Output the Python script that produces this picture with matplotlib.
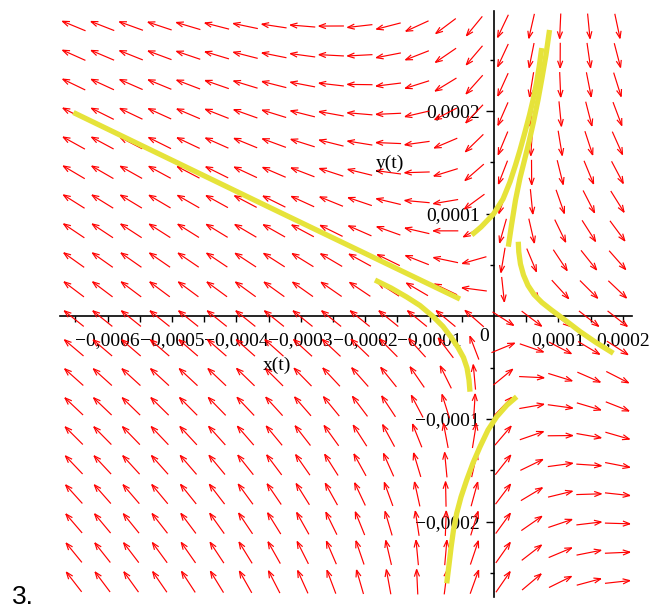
import numpy as np
import matplotlib
matplotlib.use("Agg")
import matplotlib.pyplot as plt
from matplotlib.collections import LineCollection

# ---- linear system  x' = a*x + b*y ,  y' = c*x + d*y ----
coef_a, coef_b = 1.0, -0.41
coef_c, coef_d = -0.50, -0.45

# plotting window and direction-field grid
x_range = (-0.00067438, 0.00021382)
y_range = (-0.00027293, 0.00029689)
grid_cols, grid_rows = 20, 20

# ---- solution curves (x, y) ----
curve1_x = [-0.000653, -0.00035, -0.0000528]
curve1_y = [0.0001984, 0.0001065, 0.0000168]

curve2_x = [-0.0001848, -0.0001599, -0.0001356, -0.0001149, -0.0000947, -0.0000792,
            -0.0000668, -0.0000559, -0.0000474, -0.0000419, -0.0000388, -0.0000373]
curve2_y = [0.0000353, 0.0000276, 0.0000188, 0.0000105, -0.0000002, -0.0000099,
            -0.0000202, -0.0000304, -0.0000401, -0.0000503, -0.0000620, -0.0000734]

curve3_x = [0.0000377, 0.0000385, 0.0000411, 0.0000458, 0.0000528, 0.0000621,
            0.0000745, 0.0000893, 0.0001102, 0.0001335, 0.0001584, 0.0001853]
curve3_y = [0.0000726, 0.0000626, 0.0000509, 0.0000402, 0.0000300, 0.0000212,
            0.0000134, 0.0000061, -0.0000036, -0.0000148, -0.0000255, -0.0000360]

curve4_x = [-0.0000346, -0.0000202, -0.0000008, 0.0000140, 0.0000248, 0.0000334, 0.0000404,
            0.0000481, 0.0000551, 0.0000606, 0.0000660, 0.0000703, 0.0000741]
curve4_y = [0.0000792, 0.0000869, 0.0000996, 0.0001142, 0.0001308, 0.0001473, 0.0001619,
            0.0001794, 0.0001960, 0.0002106, 0.0002271, 0.0002437, 0.0002612]

curve5_x = [0.0000352, 0.0000202, 0.0000042, -0.0000093, -0.0000217, -0.0000326, -0.0000424,
            -0.0000512, -0.0000579, -0.0000629, -0.0000665, -0.0000699, -0.0000734]
curve5_y = [-0.0000783, -0.0000864, -0.0000978, -0.0001107, -0.0001270, -0.0001428, -0.0001594,
            -0.0001759, -0.0001918, -0.0002081, -0.0002243, -0.0002421, -0.0002600]

curve6_x = [0.0000222, 0.0000272, 0.0000334, 0.0000404, 0.0000474, 0.0000543,
            0.0000613, 0.0000683, 0.0000745, 0.0000807, 0.0000862]
curve6_y = [0.0000678, 0.0000889, 0.0001132, 0.0001347, 0.0001522, 0.0001697,
            0.0001892, 0.0002106, 0.0002320, 0.0002544, 0.0002788]

# ---- axis ticks ----
x_major = [-0.0006, -0.0005, -0.0004, -0.0003, -0.0002, -0.0001, 0.0001, 0.0002]
x_major_labels = ["\u22120,0006", "\u22120,0005", "\u22120,0004", "\u22120,0003",
                  "\u22120,0002", "\u22120,0001", "0,0001", "0,0002"]
x_minor = [-0.00065, -0.00055, -0.00045, -0.00035, -0.00025, -0.00015, -0.00005,
           0.00005, 0.00015]
y_major = [-0.0002, -0.0001, 0.0001, 0.0002]
y_major_labels = ["\u22120,0002", "\u22120,0001", "0,0001", "0,0002"]
y_minor = [-0.00025, -0.00015, -0.00005, 0.00005, 0.00015, 0.00025]

W, H, DPI = 665, 609, 100
fig = plt.figure(figsize=(W / DPI, H / DPI), dpi=DPI)
ax_left, ax_right, ax_top, ax_bottom = 59.7, 631.7, 11.4, 596.6
ax = fig.add_axes([ax_left / W, (H - ax_bottom) / H,
                   (ax_right - ax_left) / W, (ax_bottom - ax_top) / H])
ax.set_xlim(*x_range)
ax.set_ylim(*y_range)
ax.patch.set_alpha(0)

serif = "Liberation Serif"
label_size = 14

# axes through the origin
for s in ("top", "right"):
    ax.spines[s].set_visible(False)
ax.spines["left"].set_position(("data", 0))
ax.spines["bottom"].set_position(("data", 0))
for s in ("left", "bottom"):
    ax.spines[s].set_linewidth(1.2)
    ax.spines[s].set_zorder(1)

ax.set_xticks(x_major)
ax.set_xticklabels(x_major_labels)
ax.set_xticks(x_minor, minor=True)
ax.set_yticks(y_major)
ax.set_yticklabels(y_major_labels)
ax.set_yticks(y_minor, minor=True)
ax.tick_params(axis="x", which="major", direction="out", length=4, width=1.0, pad=7.5)
ax.tick_params(axis="x", which="minor", direction="out", length=4, width=1.0)
ax.tick_params(axis="y", which="major", direction="out", length=6, width=1.0, pad=4)
ax.tick_params(axis="y", which="minor", direction="out", length=3, width=1.0)
for lab in ax.get_xticklabels() + ax.get_yticklabels():
    lab.set_fontfamily(serif)
    lab.set_fontsize(label_size)

ax.text(-0.0000080, -0.0000200, "0", ha="right", va="center",
        fontfamily=serif, fontsize=label_size)
ax.text(-0.000337, -0.0000474, "x(t)", ha="center", va="center",
        fontfamily=serif, fontsize=label_size)
ax.text(-0.0001615, 0.0001493, "y(t)", ha="center", va="center",
        fontfamily=serif, fontsize=label_size)

# ---- direction field: equal-length arrows centred on the grid ----
sx = (ax_right - ax_left) / (x_range[1] - x_range[0])   # px per x unit
sy = (ax_bottom - ax_top) / (y_range[1] - y_range[0])   # px per y unit
dxg = (x_range[1] - x_range[0]) / grid_cols
dyg = (y_range[1] - y_range[0]) / grid_rows
gx = x_range[0] + (np.arange(grid_cols) + 0.5) * dxg
gy = y_range[0] + (np.arange(grid_rows) + 0.5) * dyg
GX, GY = np.meshgrid(gx, gy)
U = coef_a * GX + coef_b * GY
V = coef_c * GX + coef_d * GY
PU, PV = U * sx, V * sy
norm = np.hypot(PU, PV)
PU, PV = PU / norm, PV / norm

arrow_len, barb_len, barb_ang = 25.0, 7.5, np.deg2rad(20)
segs = []
for cx, cy, pu, pv in zip(GX.ravel(), GY.ravel(), PU.ravel(), PV.ravel()):
    tail = (cx - 0.5 * arrow_len * pu / sx, cy - 0.5 * arrow_len * pv / sy)
    head = (cx + 0.5 * arrow_len * pu / sx, cy + 0.5 * arrow_len * pv / sy)
    segs.append([tail, head])
    for sgn in (-1, 1):
        ang = np.arctan2(pv, pu) + np.pi + sgn * barb_ang
        bx = head[0] + barb_len * np.cos(ang) / sx
        by = head[1] + barb_len * np.sin(ang) / sy
        segs.append([head, (bx, by)])
ax.add_collection(LineCollection(segs, colors="#ff0000", linewidths=0.85, zorder=2))

# ---- solution curves ----
curve_color = "#e6e33a"
for cx_, cy_ in ((curve1_x, curve1_y), (curve2_x, curve2_y), (curve3_x, curve3_y),
                 (curve4_x, curve4_y), (curve5_x, curve5_y), (curve6_x, curve6_y)):
    ax.plot(cx_, cy_, color=curve_color, lw=3.8, solid_capstyle="butt",
            solid_joinstyle="round", zorder=3)

fig.text(12 / W, (H - 604.5) / H, "3.", fontfamily="Liberation Sans", fontsize=19,
         ha="left", va="baseline")

fig.savefig("out.png", dpi=DPI)
